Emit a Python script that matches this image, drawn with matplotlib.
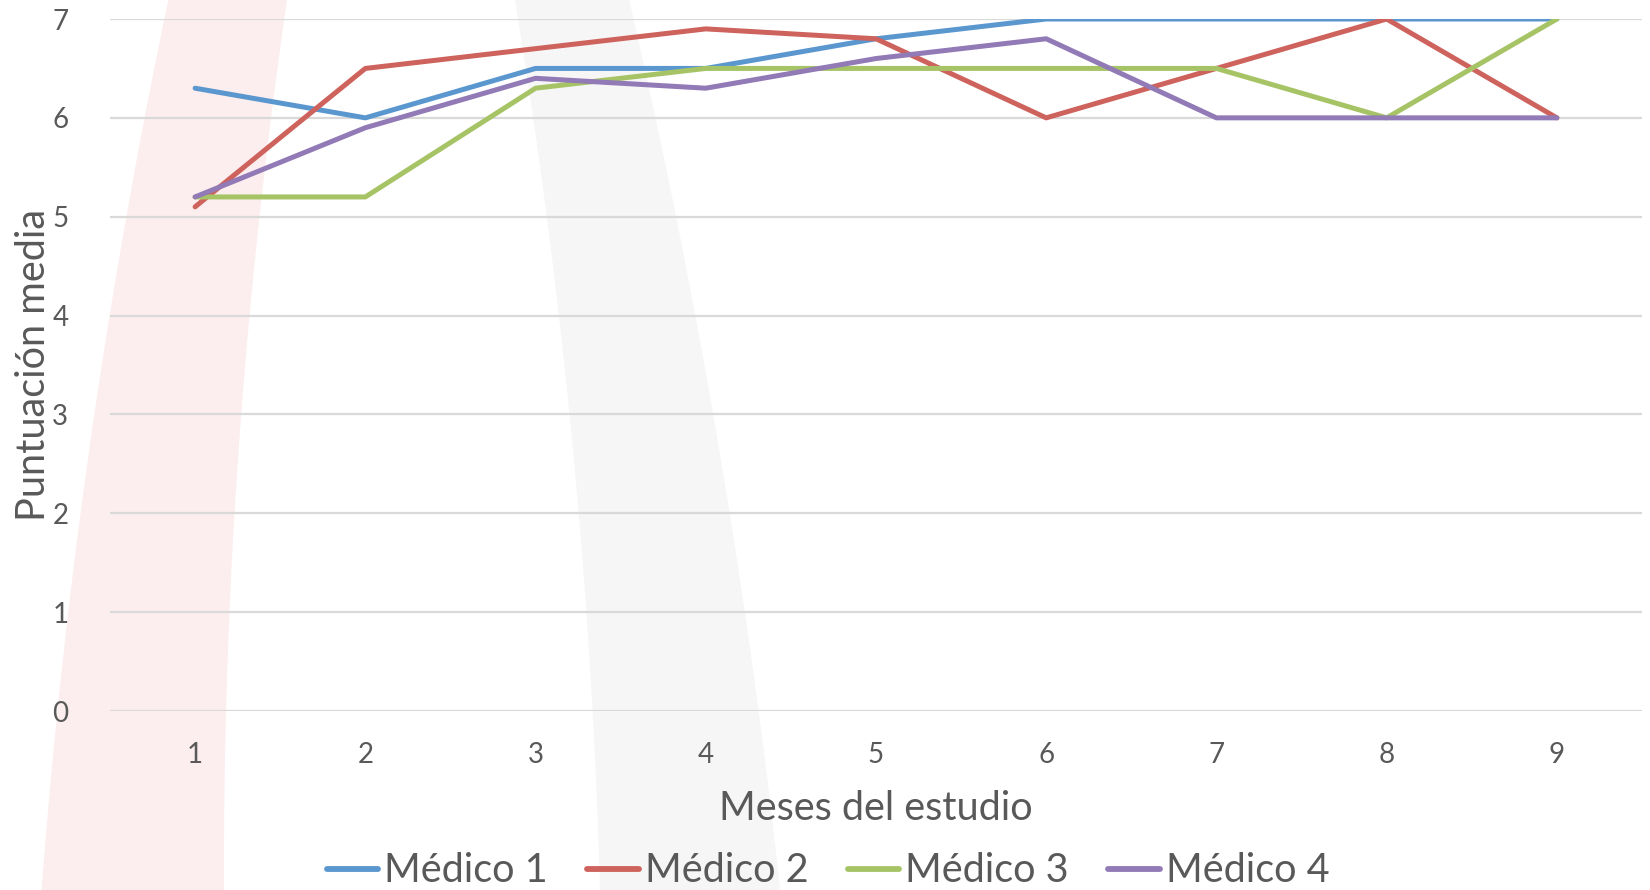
import numpy as np
import matplotlib.pyplot as plt
from matplotlib.patches import Polygon

plt.rcParams['font.family'] = ['Lato', 'DejaVu Sans']

meses = [1, 2, 3, 4, 5, 6, 7, 8, 9]
medico1 = [6.3, 6.0, 6.5, 6.5, 6.8, 7.0, 7.0, 7.0, 7.0]
medico2 = [5.1, 6.5, 6.7, 6.9, 6.8, 6.0, 6.5, 7.0, 6.0]
medico3 = [5.2, 5.2, 6.3, 6.5, 6.5, 6.5, 6.5, 6.0, 7.0]
medico4 = [5.2, 5.9, 6.4, 6.3, 6.6, 6.8, 6.0, 6.0, 6.0]
nombres = ['Médico 1', 'Médico 2', 'Médico 3', 'Médico 4']
colores = ['#5B97CF', '#CE625C', '#A6C466', '#917AB6']

W, H = 1650, 890
fig = plt.figure(figsize=(W / 100, H / 100), dpi=100)

# decorative bands behind the plot (pixel coords, y from top), smooth edges
def banda(ys, izq, der, color):
    yy = np.linspace(0, H, 80)
    xl = np.polyval(np.polyfit(ys, izq, 2), yy)
    xr = np.polyval(np.polyfit(ys, der, 2), yy)
    pts = np.vstack([np.column_stack([xl, yy]), np.column_stack([xr, yy])[::-1]])
    pts[:, 0] /= W
    pts[:, 1] = 1 - pts[:, 1] / H
    fig.patches.append(Polygon(pts, closed=True, transform=fig.transFigure,
                               facecolor=color, edgecolor='none', zorder=0))

banda([0, 300, 650, 890], [168, 113, 63, 42], [287, 251, 228, 224], '#FCEEEE')
banda([0, 300, 650, 890], [515, 557, 589, 600], [630, 690, 753, 779], '#F6F6F6')

ax = fig.add_axes([110 / W, 1 - 711 / H, 1532 / W, 692 / H])
ax.set_facecolor('none')
ax.set_zorder(2)

for serie, nombre, color in zip([medico1, medico2, medico3, medico4], nombres, colores):
    ax.plot(meses, serie, color=color, lw=3.6, label=nombre,
            solid_joinstyle='round', solid_capstyle='round', zorder=3)

ax.set_xlim(0.5, 9.5)
ax.set_ylim(0, 7)
ax.set_xticks(meses)
ax.set_yticks(range(0, 8))
ax.grid(axis='y', color='#D9D9D9', lw=1.6, zorder=1)
ax.set_axisbelow(True)
for s in ax.spines.values():
    s.set_visible(False)
ax.tick_params(length=0, labelsize=20, labelcolor='#595959')
ax.tick_params(axis='x', pad=22)
ax.tick_params(axis='y', pad=30)

fig.text(0.5 * (110 + 1642) / W, 1 - 808 / H, 'Meses del estudio', ha='center', va='center',
         fontsize=28.5, color='#595959', zorder=5)
fig.text(34 / W, 1 - 365 / H, 'Puntuación media', ha='center', va='center',
         rotation=90, fontsize=28.5, color='#595959', zorder=5)

leg = fig.legend(loc='center', bbox_to_anchor=(828 / W, 1 - 871 / H), ncol=4,
                 frameon=False, fontsize=28.5, handlelength=1.3, handletextpad=0.15,
                 columnspacing=1.0, labelcolor='#595959')
leg.set_zorder(5)
for linea in leg.get_lines():
    linea.set_linewidth(4.2)

fig.savefig('out.png', dpi=100)
